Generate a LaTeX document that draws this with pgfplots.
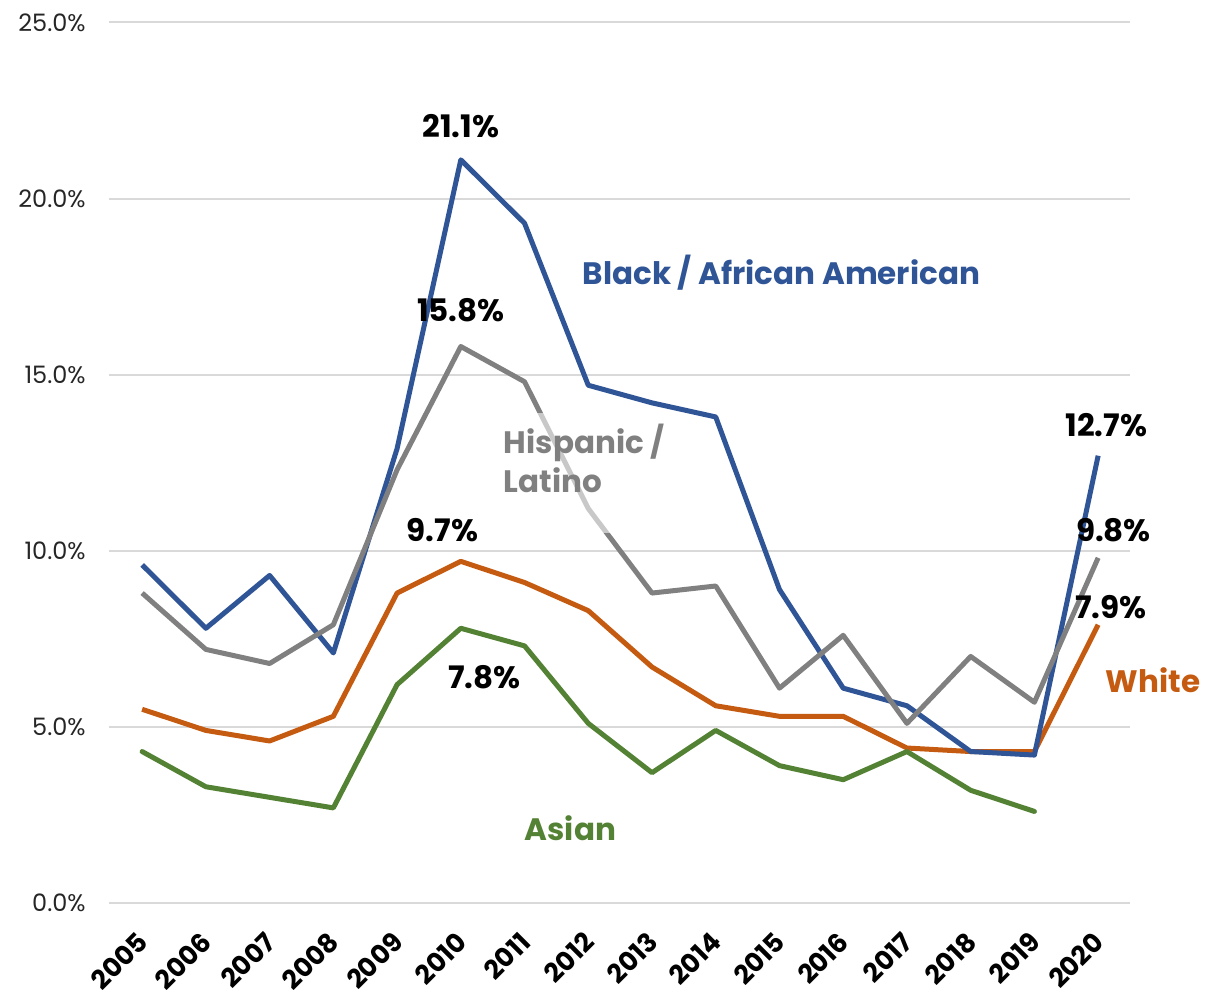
\documentclass[border=0pt]{standalone}
\usepackage{pgfplots}
\pgfplotsset{compat=1.18}
\usepackage{fontspec}
\setmainfont{Poppins}
\definecolor{cblack}{HTML}{2F5597}
\definecolor{chisp}{HTML}{808080}
\definecolor{cwhite}{HTML}{C55A11}
\definecolor{casian}{HTML}{548235}
\definecolor{gridc}{HTML}{D9D9D9}
\begin{document}
\begin{tikzpicture}
\begin{axis}[
  at={(0,0)}, anchor=south west, scale only axis,
  width=510.5pt, height=440.25pt,
  xmin=2004.48, xmax=2020.5, ymin=0, ymax=25,
  xtick={2005,...,2020}, ytick={0,5,...,25},
  axis line style={draw=none}, major tick length=0pt,
  ymajorgrids, grid style={draw=gridc, line width=1pt},
  clip=false,
  /pgf/number format/assume math mode=true,
  x tick label style={/pgf/number format/1000 sep={}, font=\fontsize{13.2}{16}\selectfont\bfseries, xshift=0.5pt, yshift=-17pt, rotate=45, anchor=east, inner sep=0pt},
  yticklabel={\pgfmathprintnumber[fixed,fixed zerofill,precision=1]{\tick}\%},
  y tick label style={font=\fontsize{12}{14}\selectfont, inner sep=0pt, xshift=-11.5pt, text=black!85},
  every axis plot/.append style={line width=2.5pt, mark=none, line join=round},
]
\addplot[cwhite] coordinates {(2005,5.5)(2006,4.9)(2007,4.6)(2008,5.3)(2009,8.8)(2010,9.7)(2011,9.1)(2012,8.3)(2013,6.7)(2014,5.6)(2015,5.3)(2016,5.3)(2017,4.4)(2018,4.3)(2019,4.3)(2020,7.9)};
\addplot[cblack] coordinates {(2005,9.6)(2006,7.8)(2007,9.3)(2008,7.1)(2009,12.9)(2010,21.1)(2011,19.3)(2012,14.7)(2013,14.2)(2014,13.8)(2015,8.9)(2016,6.1)(2017,5.6)(2018,4.3)(2019,4.2)(2020,12.7)};
\addplot[chisp] coordinates {(2005,8.8)(2006,7.2)(2007,6.8)(2008,7.9)(2009,12.3)(2010,15.8)(2011,14.8)(2012,11.2)(2013,8.8)(2014,9.0)(2015,6.1)(2016,7.6)(2017,5.1)(2018,7.0)(2019,5.7)(2020,9.8)};
\addplot[casian, line cap=round] coordinates {(2005,4.3)(2006,3.3)(2007,3.0)(2008,2.7)(2009,6.2)(2010,7.8)(2011,7.3)(2012,5.1)(2013,3.7)(2014,4.9)(2015,3.9)(2016,3.5)(2017,4.3)(2018,3.2)(2019,2.6)};
% data labels
\begin{scope}[every node/.style={font=\fontsize{15.5}{18}\selectfont\bfseries, text=black, inner sep=0pt}]
\node at (axis cs:2010,22.07) {21.1\%};
\node at (axis cs:2010,16.82) {15.8\%};
\node at (axis cs:2009.71,10.58) {9.7\%};
\node at (axis cs:2010.37,6.41) {7.8\%};
\node at (axis cs:2020.13,13.56) {12.7\%};
\node at (axis cs:2020.24,10.58) {9.8\%};
\node at (axis cs:2020.2,8.40) {7.9\%};
\end{scope}
% series labels
\begin{scope}[every node/.style={font=\fontsize{15.5}{18}\selectfont\bfseries, inner sep=0pt}]
\node[text=cblack] at (axis cs:2015.03,17.9) {Black / African American};
\node[fill=white, fill opacity=0.57, minimum width=80pt, minimum height=60pt, anchor=west] at (axis cs:2010.5,12.2) {};
\node[text=chisp, anchor=west, align=left, font=\fontsize{15.5}{19.5}\selectfont\bfseries] at (axis cs:2010.67,12.63) {Hispanic /\\Latino};
\node[text=cwhite] at (axis cs:2020.86,6.33) {White};
\node[text=casian] at (axis cs:2011.72,2.13) {Asian};
\end{scope}
\end{axis}
\pgfresetboundingbox
\useasboundingbox (-54.5pt,-48pt) rectangle (555.5pt,451.5pt);
\end{tikzpicture}
\end{document}
